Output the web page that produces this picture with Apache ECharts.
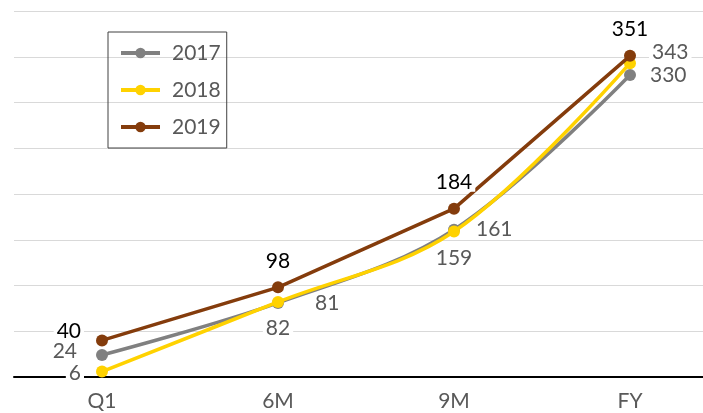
<!DOCTYPE html>
<html><head><meta charset="utf-8">
<script src="https://cdn.jsdelivr.net/npm/echarts@6/dist/echarts.min.js"></script>
<style>html,body{margin:0;padding:0;background:#fff;overflow:hidden;width:703px;height:413px}#c{width:720px;height:413px}</style>
</head><body><div id="c"></div>
<script>
const categories = ['Q1', '6M', '9M', 'FY'];
const seriesNames = ['2017', '2018', '2019'];
const values2017 = [24, 81, 161, 330];
const values2018 = [6, 82, 159, 343];
const values2019 = [40, 98, 184, 351];

const FONT = 'Lato';
const colors = ['#808080', '#FFD200', '#843C0C'];
const labelColors = ['#595959', '#595959', '#000000'];
const smoothing = [0.35, 0.35, false];
// label placement per point: [position, distance, dy]
const labelPos = [
  [['left', 16, -4], ['right', 28, 0], ['right', 13, 0], ['right', 11, 0]],
  [['left', 12, 2], ['bottom', 11, 0], ['bottom', 11, 0], ['right', 13, -11]],
  [['left', 12, -9], ['top', 11, 0], ['top', 11, 0], ['top', 11, 0]]
];
const allValues = [values2017, values2018, values2019];

const series = allValues.map((vals, si) => ({
  name: seriesNames[si],
  type: 'line',
  smooth: smoothing[si],
  symbol: 'circle',
  symbolSize: 12,
  lineStyle: { width: 3.5, color: colors[si] },
  itemStyle: { color: colors[si] },
  z: 2 + si,
  data: vals.map((v, i) => ({
    value: v,
    label: {
      show: true,
      position: labelPos[si][i][0],
      distance: labelPos[si][i][1],
      offset: [0, labelPos[si][i][2]],
      color: labelColors[si],
      fontFamily: FONT,
      fontSize: 21,
      lineHeight: 19,
      backgroundColor: '#ffffff',
      padding: [0, 3]
    }
  }))
}));

const chart = echarts.init(document.getElementById('c'));
chart.setOption({
  animation: false,
  backgroundColor: '#fff',
  grid: { left: 14, right: 2, top: 11, bottom: 36, containLabel: false },
  legend: {
    orient: 'vertical',
    left: 108, top: 32,
    padding: [10, 6, 10, 11],
    borderColor: '#404040', borderWidth: 1,
    itemWidth: 39, itemHeight: 13, itemGap: 15,
    lineStyle: { width: 4 },
    textStyle: { fontFamily: FONT, fontSize: 21, color: '#595959', lineHeight: 22, padding: [0, 0, 0, 7] },
    data: seriesNames
  },
  xAxis: {
    type: 'category',
    data: categories,
    boundaryGap: true,
    axisLine: { lineStyle: { color: '#000', width: 2 } },
    axisTick: { show: false },
    axisLabel: { fontFamily: FONT, fontSize: 21, color: '#595959', margin: 14 }
  },
  yAxis: {
    type: 'value', min: 0, max: 400, interval: 50,
    axisLabel: { show: false },
    axisLine: { show: false }, axisTick: { show: false },
    splitLine: { lineStyle: { color: '#d9d9d9', width: 1 } }
  },
  series
});
</script></body></html>
